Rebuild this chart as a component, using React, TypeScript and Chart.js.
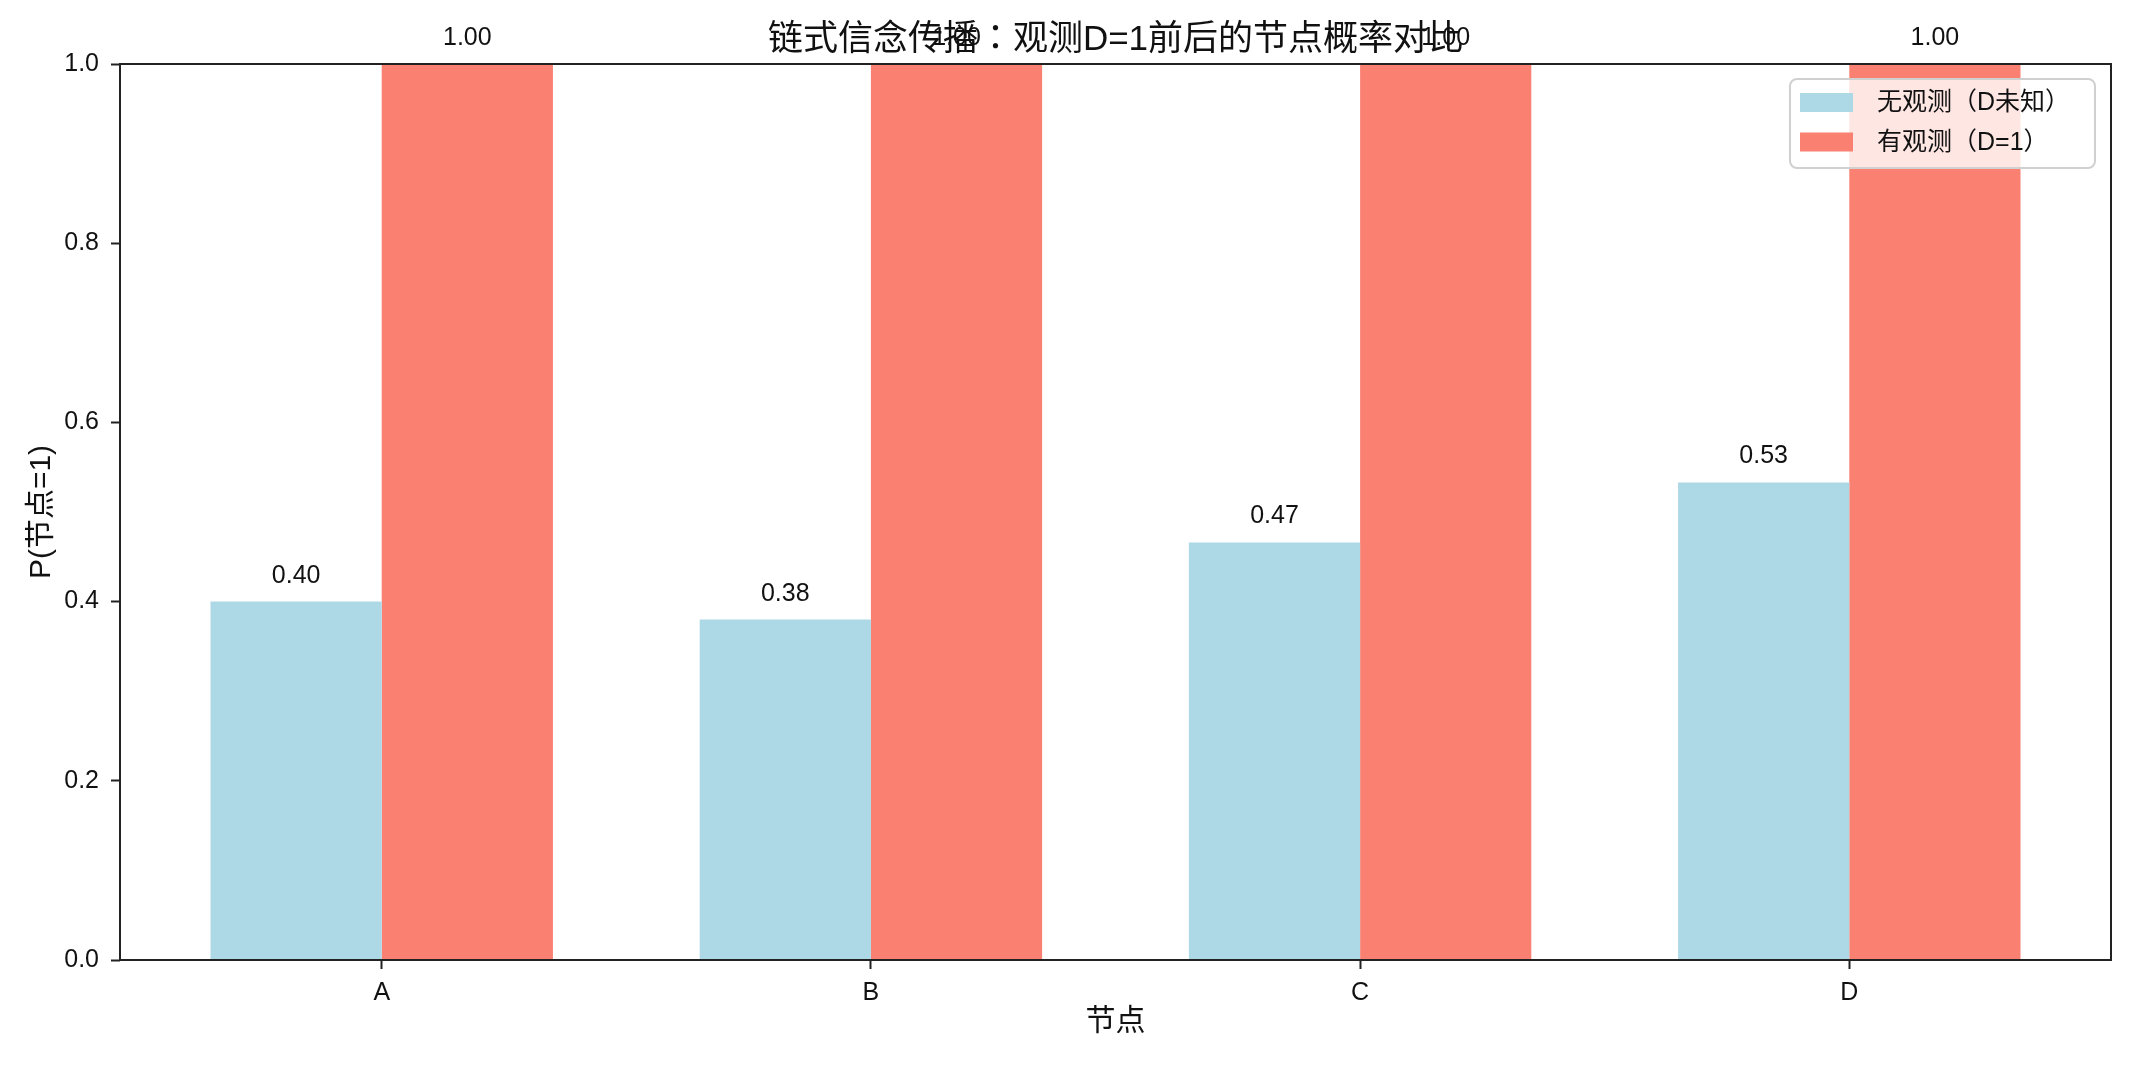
import { useEffect, useRef } from 'react';
import { Chart, registerables } from 'chart.js';

Chart.register(...registerables);

// ---- data ----
const categories = ['A', 'B', 'C', 'D'];
const categoryPositions = [0, 1, 2, 3];
const noObsValues = [0.40, 0.38, 0.466, 0.533];
const obsValues = [1.0, 1.0, 1.0, 1.0];
const seriesLabels = ['无观测（D未知）', '有观测（D=1）'];
const yTickValues = [0, 0.2, 0.4, 0.6, 0.8, 1.0];
const titleText = '链式信念传播：观测D=1前后的节点概率对比';
const xAxisLabel = '节点';
const yAxisLabel = 'P(节点=1)';

// ---- styles ----
const W = 2138;
const H = 1066;
const BLUE = '#ADD8E6';
const RED = '#FA8072';
const INK = '#111111';
const FONT = "'Liberation Sans', 'Noto Sans CJK TC', 'Noto Sans CJK SC', sans-serif";
const LEGEND_FONT = "'Liberation Sans', 'Noto Sans CJK KR', 'Noto Sans CJK TC', sans-serif";

const overlayPlugin = {
  id: 'overlay',
  afterDatasetsDraw(chart: any) {
    const ctx = chart.ctx;
    ctx.save();
    ctx.fillStyle = INK;
    ctx.font = `25px ${FONT}`;
    ctx.textAlign = 'center';
    ctx.textBaseline = 'alphabetic';
    chart.data.datasets.forEach((ds: any, di: number) => {
      const meta = chart.getDatasetMeta(di);
      meta.data.forEach((el: any, i: number) => {
        const v = ds.data[i].y;
        ctx.fillText(v.toFixed(2), el.x, el.y - 19);
      });
    });
    ctx.restore();
  },
  afterDraw(chart: any) {
    const ctx = chart.ctx;
    const a = chart.chartArea;
    ctx.save();
    // frame
    ctx.strokeStyle = '#222';
    ctx.lineWidth = 2;
    ctx.strokeRect(a.left, a.top, a.right - a.left, a.bottom - a.top);

    // title
    ctx.fillStyle = INK;
    ctx.textAlign = 'center';
    ctx.textBaseline = 'middle';
    ctx.font = `35px ${FONT}`;
    ctx.fillText(titleText, (a.left + a.right) / 2, 40);

    // axis labels
    ctx.font = `30px ${FONT}`;
    ctx.fillText(xAxisLabel, (a.left + a.right) / 2, 1022);
    ctx.save();
    ctx.translate(42, (a.top + a.bottom) / 2);
    ctx.rotate(-Math.PI / 2);
    ctx.fillText(yAxisLabel, 0, 0);
    ctx.restore();

    // legend
    const lx = 1790, ly = 79, lw = 305, lh = 89, r = 7;
    ctx.beginPath();
    ctx.moveTo(lx + r, ly);
    ctx.arcTo(lx + lw, ly, lx + lw, ly + lh, r);
    ctx.arcTo(lx + lw, ly + lh, lx, ly + lh, r);
    ctx.arcTo(lx, ly + lh, lx, ly, r);
    ctx.arcTo(lx, ly, lx + lw, ly, r);
    ctx.closePath();
    ctx.fillStyle = 'rgba(255,255,255,0.8)';
    ctx.fill();
    ctx.strokeStyle = '#d0d0d0';
    ctx.lineWidth = 2;
    ctx.stroke();

    const rows = [102.5, 142];
    const cols = [BLUE, RED];
    ctx.font = `25px ${LEGEND_FONT}`;
    ctx.textAlign = 'left';
    ctx.textBaseline = 'middle';
    rows.forEach((cy, i) => {
      ctx.fillStyle = cols[i];
      ctx.fillRect(1800, cy - 9.5, 53, 19);
      ctx.fillStyle = INK;
      ctx.fillText(seriesLabels[i], 1877, cy + 1);
    });
    ctx.restore();
  },
};

export default function App() {
  const ref = useRef<HTMLCanvasElement | null>(null);

  useEffect(() => {
    if (!ref.current) return;
    const chart = new Chart(ref.current, {
      type: 'bar',
      data: {
        datasets: [
          {
            label: seriesLabels[0],
            data: categoryPositions.map((x, i) => ({ x, y: noObsValues[i] })),
            backgroundColor: BLUE,
            borderWidth: 0,
            categoryPercentage: 0.7,
            barPercentage: 1.0,
          },
          {
            label: seriesLabels[1],
            data: categoryPositions.map((x, i) => ({ x, y: obsValues[i] })),
            backgroundColor: RED,
            borderWidth: 0,
            categoryPercentage: 0.7,
            barPercentage: 1.0,
          },
        ],
      },
      options: {
        responsive: false,
        animation: false,
        devicePixelRatio: 1,
        layout: { padding: { left: 0, top: 64, right: 27, bottom: 0 } },
        plugins: {
          legend: { display: false },
          title: { display: false },
          tooltip: { enabled: false },
        },
        scales: {
          x: {
            type: 'linear',
            offset: false,
            min: -0.535,
            max: 3.535,
            afterBuildTicks: (scale: any) => {
              scale.ticks = categoryPositions.map((v) => ({ value: v }));
            },
            afterFit: (scale: any) => {
              scale.height = 106;
            },
            border: { display: false },
            grid: {
              offset: false,
              drawOnChartArea: false,
              drawTicks: true,
              tickLength: 9,
              tickWidth: 2,
              tickColor: '#222',
            },
            ticks: {
              color: INK,
              font: { family: FONT, size: 25 },
              padding: 9,
              maxRotation: 0,
              autoSkip: false,
              callback: (v: any) => categories[Math.round(Number(v))] ?? '',
            },
          },
          y: {
            type: 'linear',
            min: 0,
            max: 1,
            afterBuildTicks: (scale: any) => {
              scale.ticks = yTickValues.map((v) => ({ value: v }));
            },
            afterFit: (scale: any) => {
              scale.width = 120;
            },
            border: { display: false },
            grid: {
              drawOnChartArea: false,
              drawTicks: true,
              tickLength: 9,
              tickWidth: 2,
              tickColor: '#222',
            },
            ticks: {
              color: INK,
              font: { family: FONT, size: 25 },
              padding: 12,
              callback: (v: any) => Number(v).toFixed(1),
            },
          },
        },
      },
      plugins: [overlayPlugin],
    } as any);
    return () => chart.destroy();
  }, []);

  return (
    <div style={{ position: 'fixed', left: 0, top: 0, width: W, height: H, background: '#fff' }}>
      <canvas ref={ref} width={W} height={H} style={{ width: W, height: H, display: 'block' }} />
    </div>
  );
}
